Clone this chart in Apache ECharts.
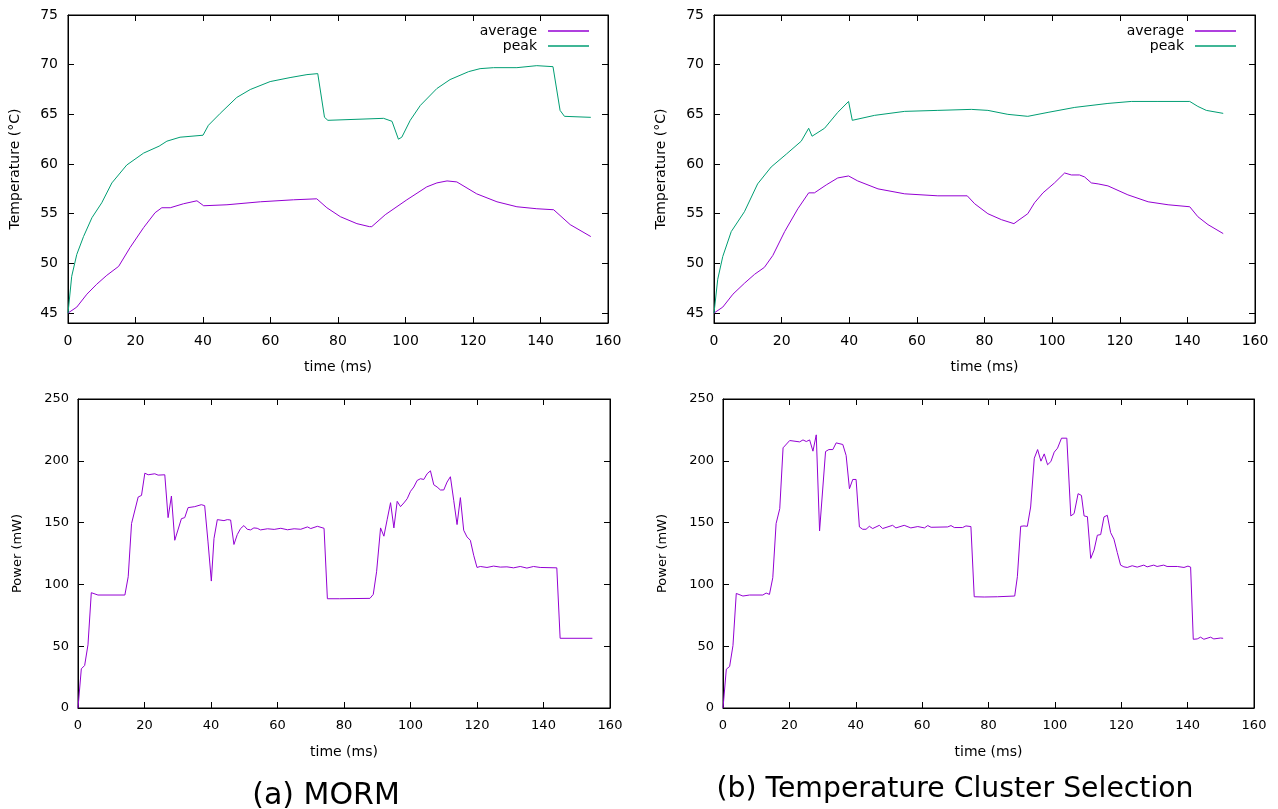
<!DOCTYPE html>
<html>
<head>
<meta charset="utf-8">
<script src="https://cdn.jsdelivr.net/npm/echarts@6/dist/echarts.min.js"></script>
<style>
  html, body { margin: 0; padding: 0; background: #fff; }
  #main { width: 1278px; height: 809px; }
</style>
</head>
<body>
<div id="main"></div>
<script>
// temperature curves, [time ms, °C]
var mormAvg = [[0,45],[2.6,45.6],[5.6,46.9],[8.5,47.9],[11.5,48.8],[15,49.7],[18.4,51.6],[22.4,53.6],[25.8,55.1],[27.8,55.6],[30.3,55.6],[34.2,56],[38.2,56.3],[40.2,55.8],[47.1,55.9],[57,56.2],[66.8,56.4],[73.7,56.5],[76.7,55.6],[80.7,54.7],[85.6,54],[89.3,53.7],[90,53.7],[94,54.9],[100.4,56.4],[106.3,57.7],[109.3,58.1],[112.3,58.3],[115.2,58.2],[121.1,57],[127.1,56.2],[133,55.7],[138.9,55.5],[143.9,55.4],[148.8,53.9],[154.9,52.7]];
var mormPeak = [[0,45],[1.1,48.7],[2.6,50.9],[4.6,52.7],[7.1,54.6],[10,56.1],[13,58.1],[17.4,59.9],[22.4,61.1],[27,61.8],[29.3,62.3],[33.2,62.7],[40,62.9],[41.6,63.9],[45.1,65.1],[50,66.7],[54,67.5],[59.9,68.3],[65.8,68.7],[70.8,69],[74,69.1],[76,64.7],[77,64.4],[93.5,64.6],[96,64.3],[97.9,62.5],[98.9,62.7],[101.4,64.4],[104.4,65.9],[109.3,67.6],[113.2,68.5],[118.7,69.3],[122.1,69.6],[126.1,69.7],[133,69.7],[138.9,69.9],[143.7,69.8],[145.8,65.4],[147.1,64.8],[154.9,64.7]];
var tcsAvg = [[0,45],[2.6,45.6],[5.6,46.9],[9,48],[12,48.9],[14.9,49.6],[17.4,50.8],[20.9,53.2],[24.8,55.5],[28,57.1],[29.7,57.1],[33.2,57.9],[36.6,58.6],[39.8,58.8],[42.5,58.3],[48.5,57.5],[56.4,57],[66.2,56.8],[74.9,56.8],[77.1,56],[81,55],[85,54.4],[88.7,54],[89.9,54.3],[92.8,55],[94.8,56.1],[97.3,57.1],[100.7,58.1],[103.7,59.1],[105.7,58.9],[108.1,58.9],[109.6,58.7],[111.6,58.1],[113.6,58],[116.5,57.8],[122.4,56.9],[128.4,56.2],[134.3,55.9],[140.7,55.7],[143.1,54.7],[146.1,53.9],[150.6,53]];
var tcsPeak = [[0,45],[1.1,48.4],[2.6,50.7],[5.1,53.2],[9,55.2],[12.9,58],[16.9,59.7],[21.4,61],[25.8,62.3],[28,63.6],[29,62.8],[32.7,63.6],[36.6,65.2],[39.8,66.3],[40.9,64.4],[47.5,64.9],[56.4,65.3],[66.2,65.4],[76.1,65.5],[81,65.4],[86.9,65],[92.8,64.8],[98.8,65.2],[106.7,65.7],[116.5,66.1],[123.4,66.3],[131.3,66.3],[140.7,66.3],[143.1,65.8],[145.6,65.4],[150.6,65.1]];

// power curves, [time ms, mW]
var mormPower = [[0,0],[1,31.7],[2,34.4],[3,51.1],[4,93.3],[6,91.4],[14.1,91.4],[15.1,106.2],[16.1,149.2],[18.1,170.7],[19.1,172],[20.1,190],[21.1,188.7],[23.1,189.5],[24.1,188.4],[26.1,188.7],[27.1,154],[28.1,171.5],[29.1,135.7],[31.1,153.2],[32.1,154],[33.1,162.1],[35.1,162.9],[37.1,164.5],[38.1,163.7],[39.1,134.4],[40.1,102.7],[40.9,137.1],[41.9,152.4],[43.9,151.6],[44.9,152.4],[45.9,152.1],[46.9,132.3],[47.9,140.3],[48.9,145.2],[49.9,147.6],[50.9,144.6],[51.9,144.1],[52.9,145.7],[53.9,145.4],[54.9,144.1],[57,145],[59,144.5],[61,145.4],[63,144.2],[65,145],[67,144.6],[69,146.5],[70,145.2],[72,147],[74,145.4],[75,88.4],[78.7,88.4],[87.8,88.7],[88.8,91.9],[89.8,110.2],[91,145.7],[92,139],[93,152.7],[94,166.1],[95,145.7],[96,167.2],[97,162.9],[98,165.9],[99,169.3],[100,175.3],[101,178.8],[102,184.1],[103,185.5],[104,184.9],[105,189.5],[106,191.9],[107,180.6],[108,178.8],[109,176.4],[110,176.4],[111,182.8],[112,187.1],[113,168],[114,148.4],[115,170.2],[116,143.8],[117,138.4],[118,135.7],[119,123.6],[120,113.7],[121,114.5],[123,113.7],[125,114.8],[127,114],[129,114.2],[131,113.4],[133,114.5],[135,113.2],[137,114.5],[139,113.7],[144,113.4],[145,56.4],[154.7,56.4]];
var tcsPower = [[0,0],[1,31.4],[2,33.6],[3,50.5],[4,92.7],[6,90.6],[8,91.4],[12,91.4],[13,93],[14,91.9],[15,105.4],[16,149.2],[17.1,161.3],[18.1,210.5],[20.1,216.4],[23.1,215.3],[24.1,216.9],[25.1,215.6],[26.1,216.9],[27.1,207.8],[28.1,221],[29.1,143.3],[30.9,207.5],[31.9,209.1],[33.1,209.1],[34.1,214.5],[36.1,213.2],[37.1,204.3],[38.1,177.4],[39.1,184.9],[40.1,184.9],[41.1,146.5],[42.1,144.6],[43.1,144.6],[44.1,147],[45.1,145.2],[47.1,147.8],[48.1,145.2],[51.1,147.8],[52.1,145.7],[54.6,147.8],[56.6,145.7],[58.7,146.8],[60.7,145.7],[61.7,147.6],[62.7,146.2],[67.7,146.5],[68.7,147.6],[69.7,146],[72.2,146],[73.2,147.3],[74.7,146.8],[75.7,90],[78.7,89.8],[82.7,90],[87.9,90.6],[88.7,106.2],[89.7,147],[90.7,147.3],[91.7,147],[92.7,162.6],[93.8,202.1],[94.8,209.1],[95.8,199.7],[96.8,205.6],[97.8,196.8],[98.8,199.4],[99.8,207],[100.8,210.2],[102,218.3],[103.6,218.3],[104.8,155.4],[105.8,157.3],[107,173.4],[108,172],[108.8,155.4],[109.8,154.8],[110.8,121],[111.8,127.7],[112.8,139.8],[113.8,140.3],[114.8,154.6],[115.8,155.9],[116.8,141.9],[117.8,136.6],[118.8,125.8],[119.8,115.6],[120.8,114.2],[121.8,113.7],[123.3,115.1],[124.8,114],[126.8,115.6],[127.8,114.2],[129.8,115.6],[130.8,114.5],[132.8,115.6],[133.8,114.5],[136.9,114.5],[138.9,113.7],[140.1,114.8],[140.9,114],[141.7,55.6],[142.9,55.9],[143.9,57.3],[144.9,55.6],[146.9,57.3],[147.9,55.9],[149.9,56.6],[150.7,56.4]];

var tempTicks = [45, 50, 55, 60, 65, 70, 75];
var captions = ['(a) MORM', '(b) Temperature Cluster Selection'];

var FONT = 'DejaVu Sans';
var PURPLE = '#9400d3';
var GREEN = '#009e73';

var grids = [
  { left: 68, top: 15, width: 540, height: 308 },
  { left: 714, top: 15, width: 541, height: 308 },
  { left: 78, top: 399, width: 532, height: 309 },
  { left: 723, top: 399, width: 531, height: 309 }
];

var xAxes = [], yAxes = [];
grids.forEach(function (g, i) {
  var isTemp = i < 2;
  var fs = isTemp ? 14 : 13;
  var tick = { inside: true, length: 6, lineStyle: { color: '#000' } };
  var line = { show: true, onZero: false, lineStyle: { color: '#000', width: 1 } };
  xAxes.push({
    gridIndex: i, type: 'value', min: 0, max: 160, interval: 20,
    axisLine: line, axisTick: tick, splitLine: { show: false },
    axisLabel: { fontSize: fs, color: '#000', margin: 11, fontFamily: FONT },
    name: 'time (ms)', nameLocation: 'middle', nameGap: 37,
    nameTextStyle: { fontSize: 14, color: '#000', fontFamily: FONT }
  });
  xAxes.push({
    gridIndex: i, type: 'value', position: 'top', min: 0, max: 160, interval: 20,
    axisLine: line, axisTick: tick, splitLine: { show: false }, axisLabel: { show: false }
  });
  if (isTemp) {
    yAxes.push({
      gridIndex: i, type: 'value', min: 44, max: 75,
      axisLine: line,
      axisTick: { inside: true, length: 6, lineStyle: { color: '#000' }, customValues: tempTicks },
      splitLine: { show: false },
      axisLabel: { fontSize: 14, color: '#000', margin: 10, fontFamily: FONT, customValues: tempTicks },
      name: 'Temperature (°C)', nameLocation: 'middle', nameGap: 46,
      nameTextStyle: { fontSize: 14, color: '#000', fontFamily: FONT }
    });
    yAxes.push({
      gridIndex: i, type: 'value', position: 'right', min: 44, max: 75,
      axisLine: line,
      axisTick: { inside: true, length: 6, lineStyle: { color: '#000' }, customValues: tempTicks },
      splitLine: { show: false }, axisLabel: { show: false, customValues: tempTicks }
    });
  } else {
    yAxes.push({
      gridIndex: i, type: 'value', min: 0, max: 250, interval: 50,
      axisLine: line, axisTick: tick, splitLine: { show: false },
      axisLabel: { fontSize: 13, color: '#000', margin: 9, fontFamily: FONT },
      name: 'Power (mW)', nameLocation: 'middle', nameGap: 54,
      nameTextStyle: { fontSize: 13, color: '#000', fontFamily: FONT }
    });
    yAxes.push({
      gridIndex: i, type: 'value', position: 'right', min: 0, max: 250, interval: 50,
      axisLine: line, axisTick: tick, splitLine: { show: false }, axisLabel: { show: false }
    });
  }
});

function lineSeries(name, data, gi, color) {
  return {
    name: name, type: 'line', data: data,
    xAxisIndex: gi * 2, yAxisIndex: gi * 2,
    showSymbol: false, symbol: 'none',
    lineStyle: { color: color, width: 1 },
    itemStyle: { color: color },
    emphasis: { disabled: true }
  };
}

function legendItem(name, right, top) {
  return {
    data: [name], right: right, top: top, align: 'right', orient: 'vertical',
    icon: 'rect', itemWidth: 41, itemHeight: 1.5, padding: 0,
    selectedMode: false,
    textStyle: { fontSize: 14, color: '#000', fontFamily: FONT, padding: [0, 6, 0, 0] }
  };
}

var chart = echarts.init(document.getElementById('main'), null, { renderer: 'canvas' });
chart.setOption({
  backgroundColor: '#fff',
  animation: false,
  textStyle: { fontFamily: FONT },
  title: [
    { text: captions[0], left: 326, top: 781, textAlign: 'center', padding: 0,
      textStyle: { fontSize: 30, fontWeight: 'normal', color: '#000', fontFamily: FONT } },
    { text: captions[1], left: 955, top: 776, textAlign: 'center', padding: 0,
      textStyle: { fontSize: 28.3, fontWeight: 'normal', color: '#000', fontFamily: FONT } }
  ],
  legend: [
    legendItem('average', 689, 24),
    legendItem('peak', 689, 39),
    legendItem('average', 42, 24),
    legendItem('peak', 42, 39)
  ],
  grid: grids.map(function (g) {
    return { left: g.left, top: g.top, width: g.width, height: g.height,
      show: true, borderColor: '#000', borderWidth: 1, backgroundColor: 'transparent' };
  }),
  xAxis: xAxes,
  yAxis: yAxes,
  series: [
    lineSeries('average', mormAvg, 0, PURPLE),
    lineSeries('peak', mormPeak, 0, GREEN),
    lineSeries('average', tcsAvg, 1, PURPLE),
    lineSeries('peak', tcsPeak, 1, GREEN),
    lineSeries('power', mormPower, 2, PURPLE),
    lineSeries('power', tcsPower, 3, PURPLE)
  ]
});
</script>
</body>
</html>
